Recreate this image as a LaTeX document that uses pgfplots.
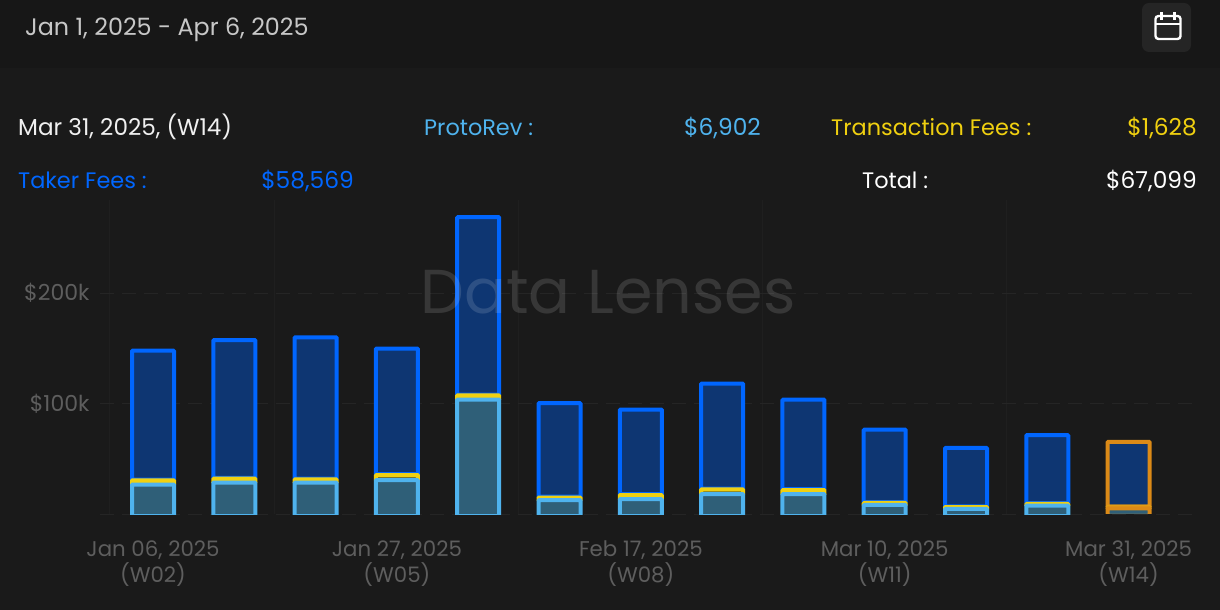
\documentclass[border=0pt]{standalone}
\usepackage{pgfplots}
\pgfplotsset{compat=1.18}
\usepackage{fontspec}
\setmainfont{Poppins}
\definecolor{bgc}{HTML}{1A1A1A}
\definecolor{topc}{HTML}{171717}
\definecolor{gridc}{HTML}{252525}
\definecolor{vgridc}{HTML}{1F1F1F}
\definecolor{tickc}{HTML}{5E5E5E}
\definecolor{bluec}{HTML}{0066FF}
\definecolor{bluef}{HTML}{0E3672}
\definecolor{lightc}{HTML}{4FB3EE}
\definecolor{lightf}{HTML}{2F5F78}
\definecolor{yellc}{HTML}{F0D010}
\definecolor{yellf}{HTML}{6B6A2A}
\definecolor{orangec}{HTML}{DB8A17}
\pgfplotsset{
  base/.style={
    scale only axis, width=1100pt, height=314pt,
    at={(100pt,96pt)}, anchor=south west,
    xmin=-0.652, xmax=12.878, ymin=0, ymax=284.2,
    ybar stacked, bar width=42pt,
    every axis plot/.append style={line width=4pt, rounded corners=0.7pt},
  }
}
\newcommand{\lab}{\fontsize{22.4}{28}\selectfont}
\newcommand{\val}{\fontsize{23.3}{28}\selectfont}
\begin{document}
\begin{tikzpicture}
\path[use as bounding box, fill=bgc] (0,0) rectangle (1220pt,610pt);
\fill[topc] (0,542pt) rectangle (1220pt,610pt);
% calendar button
\fill[rounded corners=7pt, fill=white!6!topc] (1142pt,558pt) rectangle (1191pt,607pt);
\draw[white, line width=2.4pt, rounded corners=3pt] (1155.5pt,571pt) rectangle (1180.5pt,594pt);
\draw[white, line width=2.4pt] (1155.5pt,586pt) -- (1180.5pt,586pt);
\draw[white, line width=2.4pt] (1161.5pt,590pt) -- (1161.5pt,598pt);
\draw[white, line width=2.4pt] (1174.5pt,590pt) -- (1174.5pt,598pt);
% header
\node[anchor=base west, inner sep=0, text=white!78!black] at (25pt,574.5pt) {\fontsize{23.85}{28}\selectfont Jan 1, 2025 - Apr 6, 2025};
\node[anchor=base west, inner sep=0, text=white!94!black] at (18pt,474.5pt) {\fontsize{23.1}{28}\selectfont Mar 31, 2025, (W14)};
\node[anchor=base west, inner sep=0, text=lightc] at (424pt,474.5pt) {\lab ProtoRev :};
\node[anchor=base east, inner sep=0, text=lightc] at (761pt,474.5pt) {\val \$6,902};
\node[anchor=base west, inner sep=0, text=yellc] at (831pt,474.5pt) {\lab Transaction Fees :};
\node[anchor=base east, inner sep=0, text=yellc] at (1197pt,474.5pt) {\val \$1,628};
\node[anchor=base west, inner sep=0, text=bluec] at (18pt,421.5pt) {\lab Taker Fees :};
\node[anchor=base east, inner sep=0, text=bluec] at (354pt,421.5pt) {\val \$58,569};
\node[anchor=base west, inner sep=0, text=white] at (862pt,421.5pt) {\lab Total :};
\node[anchor=base east, inner sep=0, text=white] at (1197pt,421.5pt) {\val \$67,099};
\begin{axis}[base,
  axis line style={draw=none},
  ytick={0,100,200}, yticklabels={,\$100k,\$200k},
  /pgf/number format/assume math mode=true,
  ymajorgrids, major grid style={color=gridc, line width=1pt, dash pattern=on 14pt off 8pt},
  xtick={0,3,6,9,12},
  xticklabels={Jan 06{,} 2025\\(W02),Jan 27{,} 2025\\(W05),Feb 17{,} 2025\\(W08),Mar 10{,} 2025\\(W11),Mar 31{,} 2025\\(W14)},
  minor xtick={-0.53,1.5,4.5,7.5,10.5},
  xminorgrids, minor grid style={color=vgridc, line width=1pt},
  major tick length=0pt, minor tick length=0pt,
  tick style={draw=none},
  xticklabel style={align=center, text=tickc, font=\fontsize{21.3}{26}\selectfont, yshift=-23pt},
  yticklabel style={text=tickc, font=\fontsize{22}{26}\selectfont, xshift=-7pt},
]
% ProtoRev
\addplot[draw=lightc, fill=lightf, yshift=-2pt] coordinates {(0,28.5)(1,30.3)(2,30.3)(3,32.4)(4,105.4)(5,14.3)(6,15.2)(7,19.7)(8,19.7)(9,10.0)(10,6.4)(11,9.5)};
% Transaction fees
\addplot[draw=yellc, fill=yellf, yshift=-2pt] coordinates {(0,3.8)(1,3.5)(2,2.9)(3,4.7)(4,3.8)(5,2.4)(6,3.8)(7,4.3)(8,3.8)(9,1.8)(10,1.7)(11,1.4)};
% Taker fees
\addplot[draw=bluec, fill=bluef, yshift=-1.2pt] coordinates {(0,116.6)(1,124.6)(2,127.8)(3,113.6)(4,160.5)(5,84.7)(6,76.5)(7,95.0)(8,81.0)(9,65.6)(10,52.8)(11,61.5)};
\end{axis}
\begin{axis}[base, axis lines=none, xtick=\empty, ytick=\empty]
\addplot[draw=orangec, fill=lightf, yshift=-2pt] coordinates {(12,6.902)};
\addplot[draw=orangec!75!yellc, fill=yellf, yshift=-2pt] coordinates {(12,1.628)};
\addplot[draw=orangec, fill=bluef, yshift=-2pt] coordinates {(12,58.569)};
\end{axis}
\node[anchor=base, inner sep=0, text=white, opacity=0.13] at (608pt,296pt) {\fontsize{62}{64}\selectfont Data Lenses};
\end{tikzpicture}
\end{document}
